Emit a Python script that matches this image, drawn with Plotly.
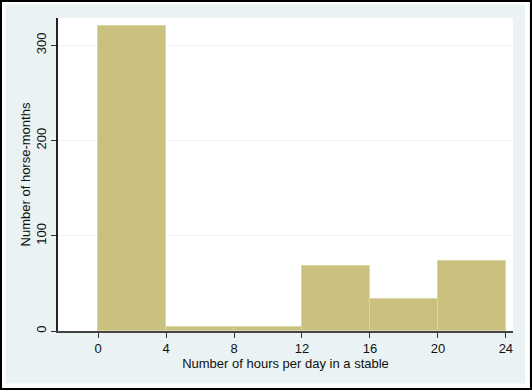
import plotly.graph_objects as go

bin_edges = [0, 4, 8, 12, 16, 20, 24]
counts = [320, 4, 4, 68, 34, 74]
x_ticks = [0, 4, 8, 12, 16, 20, 24]
y_ticks = [0, 100, 200, 300]

centers = [(bin_edges[i] + bin_edges[i + 1]) / 2 for i in range(len(counts))]
widths = [bin_edges[i + 1] - bin_edges[i] for i in range(len(counts))]

W, H = 532, 390
L, R, T, B = 58, 19, 18, 59
PW, PH = W - L - R, H - T - B


def px(x):
    return (x - L) / PW


def py(y):
    return (H - B - y) / PH


fig = go.Figure()
fig.add_trace(go.Bar(
    x=centers, y=counts, width=widths,
    marker=dict(color="#cac17f", line=dict(color="#dcd6a6", width=1)),
    hoverinfo="skip",
))

font = dict(family="Arial, Liberation Sans, sans-serif", size=13, color="#111")

fig.update_layout(
    width=W, height=H,
    margin=dict(l=L, r=R, t=T, b=B),
    paper_bgcolor="#eaf2f3",
    plot_bgcolor="white",
    showlegend=False,
    font=font,
    bargap=0,
    xaxis=dict(
        range=[-2.36, 24.42], tickmode="array", tickvals=x_ticks,
        ticks="outside", ticklen=5, tickcolor="#333", tickwidth=1,
        showline=True, linecolor="#444", linewidth=1.5, showgrid=False,
        zeroline=False,
        title=dict(text="Number of hours per day in a stable", standoff=0, font=font),
        tickfont=font,
    ),
    yaxis=dict(
        range=[0, 328.7], tickmode="array", tickvals=y_ticks,
        ticks="outside", ticklen=5, tickcolor="#333", tickwidth=1,
        showline=True, linecolor="#222", linewidth=1.5,
        showgrid=True, gridcolor="#eef3f4", gridwidth=1, zeroline=False,
        tickangle=-90,
        title=dict(text="Number of horse-months", standoff=0, font=font),
        tickfont=font,
    ),
)

# white inner strip
fig.add_shape(type="rect", xref="paper", yref="paper",
              x0=px(3.5), x1=px(527), y0=py(385.5), y1=py(2.5),
              line=dict(color="white", width=4), fillcolor="rgba(0,0,0,0)", layer="above")
# black outer border
fig.add_shape(type="rect", xref="paper", yref="paper",
              x0=px(1), x1=px(531), y0=py(389), y1=py(1),
              line=dict(color="black", width=2), fillcolor="rgba(0,0,0,0)", layer="above")

fig.write_html("out.html", config={"displayModeBar": False},
               post_script="document.body.style.margin='0';")
